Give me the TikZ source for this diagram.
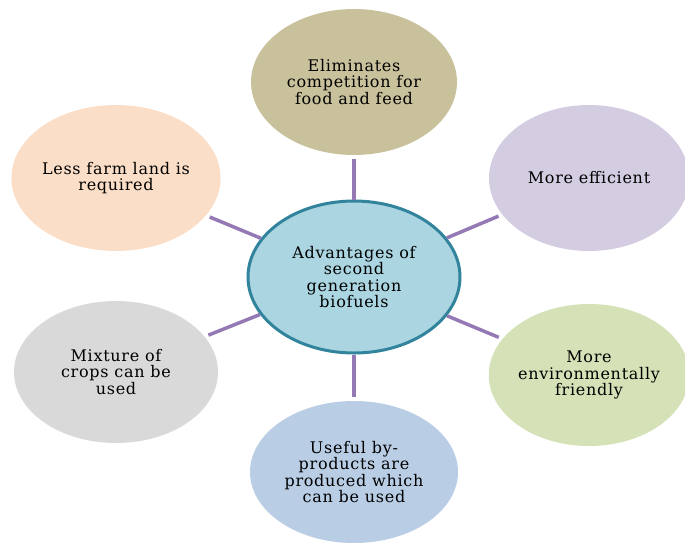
\documentclass[tikz,border=0pt]{standalone}
\usepackage{fontspec}
\setmainfont[LetterSpace=4.5]{DejaVu Serif}
\usetikzlibrary{shapes.geometric}

\definecolor{hubfill}{HTML}{AAD5E1}
\definecolor{hubline}{HTML}{31849B}
\definecolor{spokec}{HTML}{9479B4}
\definecolor{tanfill}{HTML}{C9C19C}
\definecolor{lilacfill}{HTML}{D4CCE1}
\definecolor{greenfill}{HTML}{D5E1B6}
\definecolor{bluefill}{HTML}{B9CDE5}
\definecolor{greyfill}{HTML}{D9D9D9}
\definecolor{peachfill}{HTML}{FADEC7}

\begin{document}
\begin{tikzpicture}[x=1pt,y=-1pt,
  bubble/.style={ellipse, inner sep=0pt, align=center,
    minimum width=206pt, minimum height=146pt,
    font=\fontsize{16}{16.5}\selectfont},
  spoke/.style={draw=spokec, line width=3.5pt, shorten >=4pt}]
\useasboundingbox (0,0) rectangle (685,542);

% outer benefits
\node[bubble, fill=tanfill]   (food)  at (354,82)  {Eliminates\\competition for\\food and feed};
\node[bubble, fill=lilacfill, minimum width=200pt] (eff) at (589,178) {More efficient};
\node[bubble, fill=greenfill, minimum width=200pt, minimum height=142pt] (env) at (589,375) {More\\environmentally\\friendly};
\node[bubble, fill=bluefill, minimum width=208pt, minimum height=142pt] (byp) at (354,472) {Useful by-\\products are\\produced which\\can be used};
\node[bubble, fill=greyfill, minimum width=204pt, minimum height=142pt] (mix) at (116,372) {Mixture of\\crops can be\\used};
\node[bubble, fill=peachfill] (land) at (116,178) {Less farm land is\\required};

% central topic
\node[bubble, fill=hubfill, draw=hubline, line width=3pt,
      minimum width=212pt, minimum height=152pt] (hub) at (354,277)
      {Advantages of\\second\\generation\\biofuels};

% spokes from the centre to each benefit
\foreach \t in {food,eff,env,byp,mix,land}
  \draw[spoke] (hub) -- (\t);
\end{tikzpicture}
\end{document}
